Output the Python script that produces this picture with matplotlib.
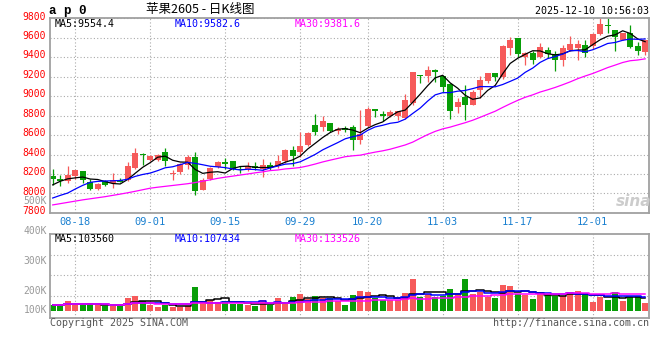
import numpy as np
import pandas as pd
import matplotlib
matplotlib.use('Agg')
import matplotlib.pyplot as plt
import matplotlib.transforms as mtrans

# daily K data, 80 sessions ending 2025-12-10
opens = [8183,8152,8131,8176,8227,8121,8045,8124,8107,8141,
         8141,8262,8406,8340,8340,8429,8198,8217,8290,8375,
         8038,8150,8270,8327,8334,8250,8255,8281,8255,8290,
         8278,8330,8450,8430,8502,8707,8680,8724,8638,8672,
         8683,8546,8690,8868,8820,8793,8800,8776,8931,9222,
         9212,9273,9202,9123,8890,8990,8910,9065,9158,9237,
         9192,9494,9597,9398,9443,9398,9477,9432,9374,9477,
         9494,9528,9515,9640,9734,9678,9580,9652,9513,9458]
highs = [8251,8193,8277,8242,8230,8148,8107,8141,8212,8158,
         8322,8470,8416,8398,8410,8472,8244,8310,8398,8431,
         8158,8271,8330,8364,8334,8278,8320,8323,8353,8323,
         8390,8455,8492,8633,8633,8820,8795,8724,8683,8696,
         8707,8855,8886,8868,8844,8855,8851,9020,9253,9222,
         9308,9280,9206,9134,8986,9110,9060,9202,9237,9237,
         9522,9604,9597,9449,9460,9546,9501,9460,9522,9614,
         9580,9580,9649,9800,9800,9678,9650,9729,9552,9573]
lows = [8085,8076,8107,8150,8105,8031,8031,8072,8060,8114,
        8127,8251,8296,8335,8330,8278,8141,8200,8250,7987,
        8038,8141,8261,8250,8244,8210,8227,8237,8166,8244,
        8261,8313,8278,8370,8490,8598,8640,8628,8614,8628,
        8450,8511,8683,8786,8741,8786,8752,8770,8906,9136,
        9143,9143,9044,8770,8825,8756,8910,8979,9134,9151,
        9178,9425,9398,9322,9329,9391,9391,9261,9305,9460,
        9374,9398,9487,9631,9648,9467,9580,9494,9420,9423]
closes = [8148,8124,8193,8238,8141,8045,8100,8083,8141,8117,
          8279,8416,8390,8381,8395,8335,8204,8300,8370,8024,
          8134,8261,8327,8303,8256,8236,8280,8265,8294,8262,
          8335,8450,8383,8490,8625,8628,8748,8638,8662,8655,
          8553,8614,8870,8844,8793,8834,8851,8960,9243,9212,
          9273,9250,9095,8852,8938,8910,9042,9168,9237,9192,
          9511,9573,9432,9443,9374,9501,9428,9374,9494,9535,
          9535,9443,9640,9745,9717,9606,9650,9505,9463,9573]
# volume in K
vols = [50,42,86,50,50,69,50,41,41,41,
        110,124,83,50,32,52,36,32,40,202,
        83,91,77,86,55,55,50,41,91,50,
        110,55,119,141,97,126,105,105,86,50,
        133,168,159,112,91,90,95,152,266,119,
        137,119,127,185,130,263,141,160,116,110,
        217,209,145,134,100,157,131,123,125,157,
        165,141,75,115,93,157,82,119,127,68]

# moving averages where the window reaches before the first visible day
ma5_head = [8088,8125,8150,8160]
ma10_head = [7953,7980,8004,8045,8083,8114,8124,8128,8130]
ma30_head = [7882,7895,7908,7921,7934,7945,7956,7967,7980,7993,
             8007,8022,8038,8054,8064,8073,8082,8091,8100,8112,
             8126,8140,8155,8167,8178,8189,8200,8212,8222]

tick_idx = [3, 13, 23, 33, 42, 52, 62, 72]
tick_lab = ['08-18','09-01','09-15','09-29','10-20','11-03','11-17','12-01']
price_ticks = list(range(7800, 9801, 200))
vol_grid = [127, 296, 465]
vol_lab = ['500K','400K','300K','200K','100K']

RED = '#f65a5a'
GREEN = '#089e08'
MONO = 'DejaVu Sans Mono'
W, H = 660, 360

o = np.array(opens); c = np.array(closes)
hi = np.array(highs); lo = np.array(lows)
x = np.arange(len(c))
col = np.where(c >= o, RED, GREEN)

cs = pd.Series(closes, dtype=float)
ma5 = cs.rolling(5).mean().to_numpy(); ma5[:4] = ma5_head
ma10 = cs.rolling(10).mean().to_numpy(); ma10[:9] = ma10_head
ma30 = cs.rolling(30).mean().to_numpy(); ma30[:29] = ma30_head

vs = pd.Series(vols, dtype=float)
vma5 = vs.rolling(5, min_periods=1).mean()
vma10 = vs.rolling(10, min_periods=1).mean()
vma30 = vs.rolling(30, min_periods=1).mean()

def rect(x0, y0, x1, y1):
    return [x0/W, 1-y1/H, (x1-x0)/W, (y1-y0)/H]

fig = plt.figure(figsize=(6.6, 3.6), dpi=100)
ax = fig.add_axes(rect(50, 18.3, 649.3, 212.9))
axv = fig.add_axes(rect(50, 234.3, 649.3, 318.3))

for a in (ax, axv):
    a.set_xlim(-0.36, 79.55)
    a.set_axisbelow(True)
    a.grid(True, linestyle=(0, (1, 2)), color='#aaaaaa', lw=0.8)
    for s in a.spines.values():
        s.set_color('#a0a0a0'); s.set_linewidth(1.3)
    a.tick_params(length=0)

# price panel
ax.vlines(x, lo, hi, colors=col, lw=0.9)
ax.bar(x, np.maximum(np.abs(c-o), 10), bottom=np.minimum(o, c), width=0.8, color=col)
ax.plot(x, ma5, color='black', lw=0.9)
ax.plot(x, ma10, color='#0000ff', lw=0.9)
ax.plot(x, ma30, color='#ff00ff', lw=0.9)
ax.set_ylim(7800, 9800)
ax.set_yticks(price_ticks, [str(p) for p in price_ticks])
ax.tick_params(axis='y', colors='red', labelsize=7, pad=3)
ax.set_xticks(tick_idx, tick_lab)
ax.tick_params(axis='x', colors='#1a80d0', labelsize=7.5, pad=3)
up2 = mtrans.ScaledTranslation(0, 2/72, fig.dpi_scale_trans)
for t in ax.get_yticklabels():
    t.set_transform(t.get_transform() + up2)
for t in ax.get_xticklabels() + ax.get_yticklabels():
    t.set_fontfamily(MONO)

# volume panel
axv.bar(x, vols, width=0.8, color=col)
axv.plot(x, vma5, color='black', lw=1.1, drawstyle='steps-mid')
axv.plot(x, vma10, color='#0000ff', lw=1.1, drawstyle='steps-mid')
axv.plot(x, vma30, color='#ff00ff', lw=1.1, drawstyle='steps-mid')
axv.set_ylim(-60.6, 636.6)
axv.set_yticks(vol_grid, ['']*len(vol_grid))
axv.set_xticks(tick_idx, ['']*len(tick_idx))

def ftext(px, py, s, **kw):
    kw.setdefault('fontfamily', MONO)
    kw.setdefault('fontsize', 7.2)
    kw.setdefault('va', 'center')
    fig.text(px/W, 1-py/H, s, **kw)

for lab, py in zip(vol_lab, [201, 230.7, 260.7, 290.7, 310.3]):
    ftext(47, py, lab, ha='right', color='#999999', fontsize=7)

ftext(49, 11, 'a p 0', fontfamily='Liberation Mono', fontweight='bold', fontsize=9)
ftext(200, 10, '苹果2605 - 日K线图', ha='center', fontfamily=['Noto Sans CJK SC', 'DejaVu Sans'], fontsize=9)
ftext(649, 11, '2025-12-10 10:56:03', ha='right')
ftext(55, 24, 'MA5:9554.4', color='black')
ftext(175, 24, 'MA10:9582.6', color='#0000ff')
ftext(295, 24, 'MA30:9381.6', color='#ff00ff')
ftext(55, 238.5, 'MA5:103560', color='black')
ftext(175, 238.5, 'MA10:107434', color='#0000ff')
ftext(295, 238.5, 'MA30:133526', color='#ff00ff')
ftext(50, 323, 'Copyright 2025 SINA.COM', color='#555555')
ftext(649, 323, 'http://finance.sina.com.cn', ha='right', color='#555555')
ftext(634, 202, 'sina', ha='center', fontfamily='DejaVu Sans', fontstyle='italic',
      fontweight='bold', fontsize=11, color='#cccccc')

fig.savefig('out.png', dpi=100)
